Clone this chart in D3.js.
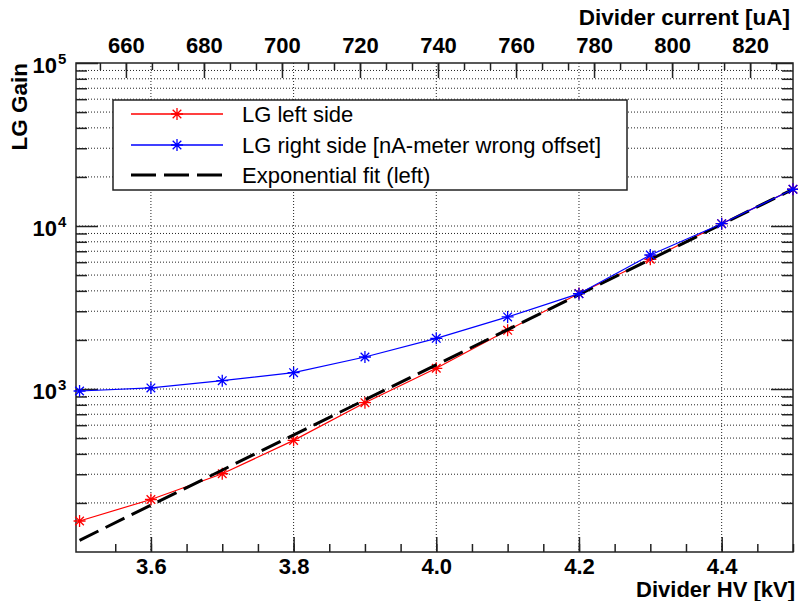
<!DOCTYPE html>
<html>
<head>
<meta charset="utf-8">
<script src="https://cdn.jsdelivr.net/npm/d3@7"></script>
<style>
  body { margin: 0; background: #fff; }
  text { font-family: "Liberation Sans", Arial, Helvetica, sans-serif; }
  .tick text { font-size: 22px; font-weight: bold; fill: #000; }
</style>
</head>
<body>
<div id="chart"></div>
<script>
// data
const hv = [3.5, 3.6, 3.7, 3.8, 3.9, 4.0, 4.1, 4.2, 4.3, 4.4, 4.5];
const gainLeft = [155, 210, 302, 484, 824, 1340, 2291, 3850, 6250, 10330, 16800];
const gainRight = [972, 1015, 1125, 1259, 1571, 2046, 2768, 3845, 6640, 10330, 16800];
const fitHV = [3.5, 4.5];
const fitGain = [118, 16800];

const hvTicks = [3.6, 3.8, 4.0, 4.2, 4.4];
const currentTicks = [660, 680, 700, 720, 740, 760, 780, 800, 820];
const gainTicks = [1e3, 1e4, 1e5];

const legendLabels = ["LG left side", "LG right side [nA-meter wrong offset]", "Exponential fit (left)"];

const W = 798, H = 601;
const pLeft = 76, pRight = 793, pTop = 63, pBottom = 552;

const svg = d3.select("#chart")
  .append("svg")
    .attr("width", W)
    .attr("height", H);

// scales
const x = d3.scaleLinear().domain([3.495, 4.5]).range([pLeft, pRight]);
const xTop = d3.scaleLinear().domain([647.2, 831]).range([pLeft, pRight]);
const y = d3.scaleLog().domain([100, 1e5]).range([pBottom, pTop]);

const yMinor = [];
[100, 1000, 10000].forEach(function(d) {
  for (let k = 2; k <= 9; k++) yMinor.push(d * k);
});
const yAll = yMinor.concat([1e3, 1e4]);

// grid
svg.append("g").selectAll("line")
  .data(yAll)
  .enter().append("line")
    .attr("x1", pLeft).attr("x2", pRight)
    .attr("y1", d => y(d)).attr("y2", d => y(d))
    .attr("stroke", "#222")
    .attr("stroke-width", 1)
    .attr("stroke-dasharray", "1,2");

svg.append("g").selectAll("line")
  .data(hvTicks)
  .enter().append("line")
    .attr("x1", d => x(d)).attr("x2", d => x(d))
    .attr("y1", pTop).attr("y2", pBottom)
    .attr("stroke", "#222")
    .attr("stroke-width", 1)
    .attr("stroke-dasharray", "1,2");

// axes
function clean(g) {
  g.select(".domain").remove();
  g.selectAll(".tick line").attr("stroke", "#222").attr("stroke-width", 1.5);
}

// bottom HV axis
svg.append("g")
    .attr("transform", "translate(0," + pBottom + ")")
  .call(d3.axisBottom(x).tickValues(d3.range(3.55, 4.5, 0.05)).tickSize(-8).tickFormat(""))
  .call(clean);
svg.append("g")
    .attr("transform", "translate(0," + pBottom + ")")
  .call(d3.axisBottom(x).tickValues(hvTicks).tickSize(-15).tickPadding(6).tickFormat(d3.format(".1f")))
  .call(clean);

// top current axis
svg.append("g")
    .attr("transform", "translate(0," + pTop + ")")
  .call(d3.axisTop(xTop).tickValues(d3.range(653.333, 831, 20 / 3)).tickSize(-7).tickFormat(""))
  .call(clean);
svg.append("g")
    .attr("transform", "translate(0," + pTop + ")")
  .call(d3.axisTop(xTop).tickValues(currentTicks).tickSize(-15).tickPadding(10))
  .call(clean);

// left gain axis
svg.append("g")
    .attr("transform", "translate(" + pLeft + ",0)")
  .call(d3.axisLeft(y).tickValues(yMinor).tickSize(-11).tickFormat(""))
  .call(clean);
svg.append("g")
    .attr("transform", "translate(" + pLeft + ",0)")
  .call(d3.axisLeft(y).tickValues(gainTicks).tickSize(-22).tickFormat(""))
  .call(clean);

// right ticks
svg.append("g")
    .attr("transform", "translate(" + pRight + ",0)")
  .call(d3.axisRight(y).tickValues(yMinor).tickSize(-11).tickFormat(""))
  .call(clean);
svg.append("g")
    .attr("transform", "translate(" + pRight + ",0)")
  .call(d3.axisRight(y).tickValues(gainTicks).tickSize(-22).tickFormat(""))
  .call(clean);

// 10^n labels
const yLab = svg.append("g").selectAll("g")
  .data(gainTicks)
  .enter().append("g");
yLab.append("text")
    .attr("x", 57)
    .attr("y", d => y(d) + 10)
    .attr("text-anchor", "end")
    .attr("font-size", 22)
    .attr("font-weight", "bold")
    .text("10");
yLab.append("text")
    .attr("x", 58)
    .attr("y", d => y(d) + 1)
    .attr("font-size", 15)
    .attr("font-weight", "bold")
    .text(d => Math.round(Math.log10(d)));

// frame
svg.append("rect")
    .attr("x", pLeft).attr("y", pTop)
    .attr("width", pRight - pLeft).attr("height", pBottom - pTop)
    .attr("fill", "none")
    .attr("stroke", "#222")
    .attr("stroke-width", 1.5);

// titles
svg.append("text")
    .attr("x", 795).attr("y", 597)
    .attr("text-anchor", "end")
    .attr("font-size", 22).attr("font-weight", "bold")
    .text("Divider HV [kV]");
svg.append("text")
    .attr("x", 790).attr("y", 25)
    .attr("text-anchor", "end")
    .attr("font-size", 22.5).attr("font-weight", "bold")
    .text("Divider current [uA]");
svg.append("text")
    .attr("transform", "translate(27," + pTop + ") rotate(-90)")
    .attr("text-anchor", "end")
    .attr("font-size", 22.5).attr("font-weight", "bold")
    .text("LG Gain");

// data
const line = d3.line()
  .x(d => x(d[0]))
  .y(d => y(d[1]));

const star = "M-6,0H6M0,-6V6M-4.3,-4.3L4.3,4.3M-4.3,4.3L4.3,-4.3";

const leftPts = hv.map((d, i) => [d, gainLeft[i]]);
const rightPts = hv.map((d, i) => [d, gainRight[i]]);
const fitPts = fitHV.map((d, i) => [d, fitGain[i]]);

function drawSeries(pts, color) {
  svg.append("path")
      .datum(pts)
      .attr("d", line)
      .attr("fill", "none")
      .attr("stroke", color)
      .attr("stroke-width", 1.2);
  svg.append("g").selectAll("path")
    .data(pts)
    .enter().append("path")
      .attr("transform", d => "translate(" + x(d[0]) + "," + y(d[1]) + ")")
      .attr("d", star)
      .attr("fill", "none")
      .attr("stroke", color)
      .attr("stroke-width", 1.3);
}

drawSeries(leftPts, "#ff0000");

svg.append("path")
    .datum(fitPts)
    .attr("d", line)
    .attr("fill", "none")
    .attr("stroke", "#000")
    .attr("stroke-width", 3)
    .attr("stroke-dasharray", "21,8");

drawSeries(rightPts, "#0000ff");

// legend
const legend = svg.append("g");
legend.append("rect")
    .attr("x", 113).attr("y", 100)
    .attr("width", 514).attr("height", 90)
    .attr("fill", "#fff")
    .attr("stroke", "#222")
    .attr("stroke-width", 1.5);

const rows = [114, 145, 175];
const legColors = ["#ff0000", "#0000ff", "#000"];

legend.selectAll(".entry")
  .data(legendLabels)
  .enter().append("text")
    .attr("x", 242)
    .attr("y", (d, i) => rows[i] + 8)
    .attr("font-size", 22)
    .attr("fill", "#000")
    .text(d => d);

[0, 1].forEach(function(i) {
  legend.append("line")
      .attr("x1", 131).attr("x2", 223)
      .attr("y1", rows[i]).attr("y2", rows[i])
      .attr("stroke", legColors[i])
      .attr("stroke-width", 1.5);
  legend.append("path")
      .attr("transform", "translate(177," + rows[i] + ")")
      .attr("d", star)
      .attr("fill", "none")
      .attr("stroke", legColors[i])
      .attr("stroke-width", 1.3);
});
legend.append("line")
    .attr("x1", 131).attr("x2", 223)
    .attr("y1", rows[2]).attr("y2", rows[2])
    .attr("stroke", "#000")
    .attr("stroke-width", 3)
    .attr("stroke-dasharray", "25,8");
</script>
</body>
</html>
